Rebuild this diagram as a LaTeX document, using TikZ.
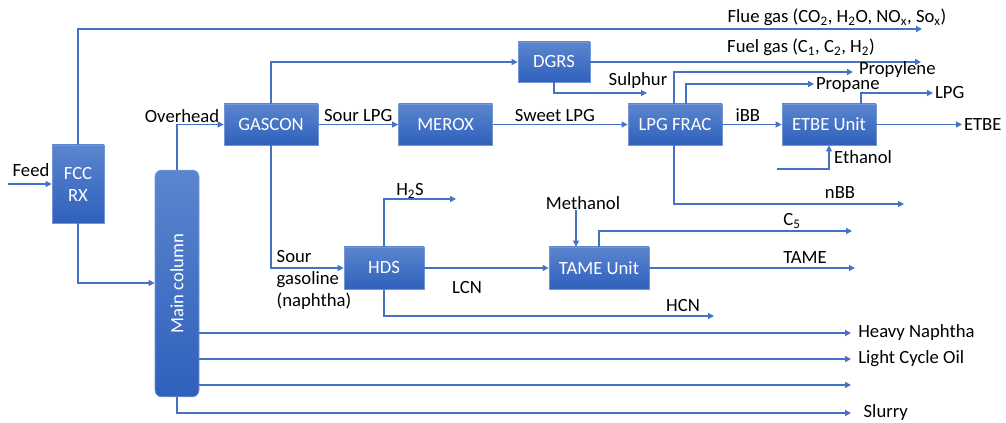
\documentclass[tikz,border=0pt]{standalone}
\usepackage{fontspec}
\setmainfont{Carlito}
\usetikzlibrary{arrows.meta}
\definecolor{flowline}{HTML}{4472C4}
\definecolor{boxtop}{HTML}{5B85CE}
\definecolor{boxbot}{HTML}{2F60BC}
\definecolor{boxedge}{HTML}{7596D6}
\begin{document}
\begin{tikzpicture}[x=0.75pt,y=-0.75pt,
    every node/.style={font=\fontsize{14}{16.5}\selectfont,inner sep=1pt},
    unit/.style={draw=boxedge,line width=0.6pt,top color=boxtop,bottom color=boxbot,
      text=white,align=center,inner sep=0pt,minimum width=70.5pt,minimum height=30.75pt},
    flow/.style={draw=flowline,line width=1pt,-{Triangle[length=4.5pt,width=4.5pt]}},
    pipe/.style={draw=flowline,line width=1pt}]
  \useasboundingbox (0,0) rectangle (1006,423);
  \node[unit,minimum width=39pt,minimum height=58.5pt] (fcc) at (78,184) {FCC\\RX};
  \node[unit,minimum width=33pt,minimum height=170pt,rounded corners=5pt] (main) at (177,283.5) {};
  \node[white,rotate=90] (mainlbl) at (main) {Main column};
  \node[unit] (gascon) at (271,124.5) {GASCON};
  \node[unit] (merox) at (445.5,124.5) {MEROX};
  \node[unit] (lpgfrac) at (675,124.5) {LPG FRAC};
  \node[unit] (etbe) at (829,124.5) {ETBE Unit};
  \node[unit,minimum width=54pt,minimum height=30pt] (dgrs) at (554,62) {DGRS};
  \node[unit,minimum width=60pt,minimum height=31.5pt] (hds) at (384,268) {HDS};
  \node[unit,minimum width=75pt,minimum height=31.5pt] (tame) at (599,268) {TAME Unit};
  \coordinate (feedin) at (8,184);
  \coordinate (flue) at (922,29);
  \coordinate (fuel) at (921,62);
  \coordinate (sulph) at (647,93);
  \coordinate (etbeout) at (962,124.5);
  \coordinate (lpgout) at (933,93);
  \coordinate (propyl) at (853,72);
  \coordinate (propan) at (814,84);
  \coordinate (ethin) at (777,169);
  \coordinate (nbbout) at (904,204);
  \coordinate (h2sout) at (456,199);
  \coordinate (hcnout) at (714,316);
  \coordinate (methin) at (576,210);
  \coordinate (c5out) at (852,231);
  \coordinate (tameout) at (855,268);
  \coordinate (hnout) at (851,333);
  \coordinate (lcoout) at (851,359);
  \coordinate (thirdout) at (851,385);
  \coordinate (slurout) at (851,413);
  \draw[flow] (feedin) -- (fcc.west);
  \node (feedlbl) at (31,170) {Feed};
  \draw[flow] (fcc.north) |- (flue);
  \node (fluelbl) at (837,17) {Flue gas (CO\textsubscript{2}, H\textsubscript{2}O, NO\textsubscript{x}, So\textsubscript{x})};
  \draw[flow] (fcc.south) |- (main.west |- 0,283);
  \draw[flow] (main.north) |- (gascon.west);
  \node (ovhdlbl) at (182,116) {Overhead};
  \draw[flow] (gascon.north) |- (dgrs.west);
  \draw[flow] (dgrs.east) -- (fuel);
  \node (fuellbl) at (801,47) {Fuel gas (C\textsubscript{1}, C\textsubscript{2}, H\textsubscript{2})};
  \draw[flow] (dgrs.south) |- (sulph);
  \node (sulphlbl) at (638,81) {Sulphur};
  \draw[flow] (gascon.east) -- (merox.west) node[midway,above=1pt] (sourlpg) {Sour LPG};
  \draw[flow] (merox.east) -- (lpgfrac.west) node[pos=0.46,above=1pt] (sweetlpg) {Sweet LPG};
  \draw[flow] (lpgfrac.east) -- (etbe.west) node[pos=0.43,above=1pt] (ibb) {iBB};
  \draw[flow] (etbe.east) -- (etbeout) node[right=0pt] (etbelbl) {ETBE};
  \draw[flow] ([xshift=24pt]etbe.north) |- (lpgout) node[right=0pt] (lpglbl) {LPG};
  \draw[flow] ([xshift=-0.75pt]lpgfrac.north) |- (propyl) node[right=4pt,yshift=1.5pt,inner sep=0pt] (propyllbl) {Propylene};
  \draw[flow] ([xshift=8.25pt]lpgfrac.north) |- (propan) node[right=1pt,yshift=-1pt,inner sep=0pt] (propanlbl) {Propane};
  \draw[flow] (ethin) -| (etbe.south);
  \node (ethlbl) at (863,157) {Ethanol};
  \draw[flow] ([xshift=-0.75pt]lpgfrac.south) |- (nbbout);
  \node (nbblbl) at (840,193) {nBB};
  \draw[flow] (gascon.south) |- (hds.west);
  \node[align=left] (sourgas) at (314,280) {Sour\\gasoline\\(naphtha)};
  \draw[flow] (hds.north) |- (h2sout);
  \node (h2slbl) at (410,191) {H\textsubscript{2}S};
  \draw[flow] (hds.east) -- (tame.west);
  \node (lcnlbl) at (467,288) {LCN};
  \draw[flow] (hds.south) |- (hcnout);
  \node (hcnlbl) at (683,306) {HCN};
  \node (methlbl) at (583,203) {Methanol};
  \draw[flow] (methin) -- (methin |- tame.north);
  \draw[flow] (tame.north) |- (c5out);
  \node (c5lbl) at (792,221) {C\textsubscript{5}};
  \draw[flow] (tame.east) -- (tameout);
  \node (tamelbl) at (805,258) {TAME};
  \draw[flow] (main.east |- hnout) -- (hnout) node[right=4pt] (hnlbl) {Heavy Naphtha};
  \draw[flow] (main.east |- lcoout) -- (lcoout) node[right=4pt] (lcolbl) {Light Cycle Oil};
  \draw[flow] (main.east |- thirdout) -- (thirdout);
  \draw[flow] (main.south) |- (slurout) node[right=8pt] (slurlbl) {Slurry};
\end{tikzpicture}
\end{document}
